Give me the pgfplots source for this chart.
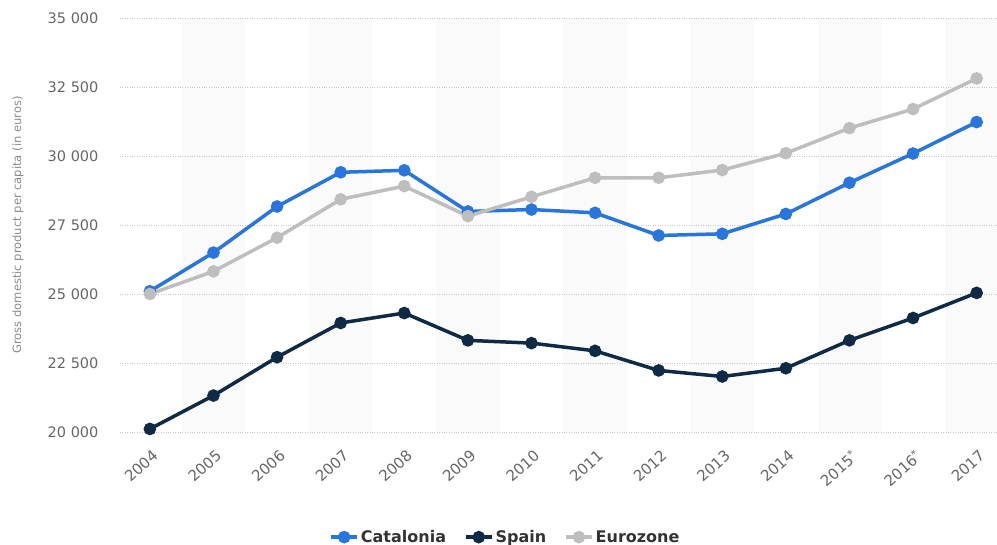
\documentclass[border=0pt]{standalone}
\usepackage{fontspec}
\setmainfont{DejaVu Sans}
\usepackage{pgfplots}
\pgfplotsset{compat=1.18}

\definecolor{catblue}{HTML}{2876DD}
\definecolor{spainnavy}{HTML}{0F2A44}
\definecolor{eurogray}{HTML}{BEBEBE}
\definecolor{bandgray}{HTML}{FAFAFA}
\definecolor{gridgray}{HTML}{C8C8C8}
\definecolor{ticktext}{HTML}{666666}
\definecolor{labeltext}{HTML}{8A8A8A}
\definecolor{legendtext}{HTML}{333333}

\begin{document}
\begin{tikzpicture}
\begin{axis}[
    set layers,
    at={(0pt,0pt)}, anchor=south west,
    scale only axis,
    width=877pt, height=414pt,
    xmin=-0.47, xmax=13.32,
    ymin=20000, ymax=35000,
    xtick={0,...,13},
    xticklabels={2004,2005,2006,2007,2008,2009,2010,2011,2012,2013,2014,2015\textsuperscript{*},2016\textsuperscript{*},2017},
    ytick={20000,22500,...,35000},
    scaled y ticks=false,
    axis line style={draw=none},
    tick style={draw=none},
    ymajorgrids=true,
    grid style={gridgray, dotted, line width=0.8pt},
    /pgf/number format/.cd, fixed, 1000 sep={\ }, assume math mode=true,
    /pgfplots/.cd,
    yticklabel style={font=\fontsize{14.5}{17}\selectfont, text=ticktext, xshift=-18pt},
    xticklabel style={font=\fontsize{15}{17}\selectfont, text=ticktext, xshift=8pt, yshift=-19pt, rotate=42, anchor=east},
    ylabel={Gross domestic product per capita (in euros)},
    ylabel style={at={(axis description cs:-0.1163,0.5)}, anchor=center, font=\fontsize{11.5}{14}\selectfont, text=labeltext},
    legend style={at={(axis description cs:0.4395,-0.254)}, anchor=center,
      legend columns=-1, draw=none, fill=none,
      font=\bfseries\fontsize{16}{18}\selectfont, text=legendtext,
      /tikz/every even column/.append style={column sep=16pt}},
    legend image code/.code={
      \draw[mark repeat=2, mark phase=2, #1] plot coordinates {(0pt,0pt) (13pt,0pt) (26pt,0pt)};
    },
    every axis plot/.append style={line width=3.5pt, mark=*, mark size=4.5pt},
]
\begin{pgfonlayer}{axis background}
\fill[bandgray] (axis cs:0.5,20000) rectangle (axis cs:1.5,35000);
\fill[bandgray] (axis cs:2.5,20000) rectangle (axis cs:3.5,35000);
\fill[bandgray] (axis cs:4.5,20000) rectangle (axis cs:5.5,35000);
\fill[bandgray] (axis cs:6.5,20000) rectangle (axis cs:7.5,35000);
\fill[bandgray] (axis cs:8.5,20000) rectangle (axis cs:9.5,35000);
\fill[bandgray] (axis cs:10.5,20000) rectangle (axis cs:11.5,35000);
\fill[bandgray] (axis cs:12.5,20000) rectangle (axis cs:13.5,35000);
\end{pgfonlayer}

% Catalonia
\addplot[color=catblue] coordinates {
  (0,25100) (1,26500) (2,28170) (3,29410) (4,29480) (5,27990) (6,28060)
  (7,27940) (8,27120) (9,27180) (10,27900) (11,29030) (12,30090) (13,31230)};
% Spain
\addplot[color=spainnavy] coordinates {
  (0,20110) (1,21320) (2,22710) (3,23950) (4,24310) (5,23320) (6,23220)
  (7,22940) (8,22230) (9,22010) (10,22310) (11,23320) (12,24130) (13,25040)};
% Eurozone
\addplot[color=eurogray] coordinates {
  (0,25000) (1,25820) (2,27040) (3,28430) (4,28910) (5,27820) (6,28520)
  (7,29210) (8,29210) (9,29490) (10,30100) (11,31010) (12,31700) (13,32810)};
\legend{Catalonia, Spain, Eurozone}
\end{axis}
\pgfresetboundingbox
\useasboundingbox (-120pt,-113pt) rectangle (877pt,432pt);
\end{tikzpicture}
\end{document}
